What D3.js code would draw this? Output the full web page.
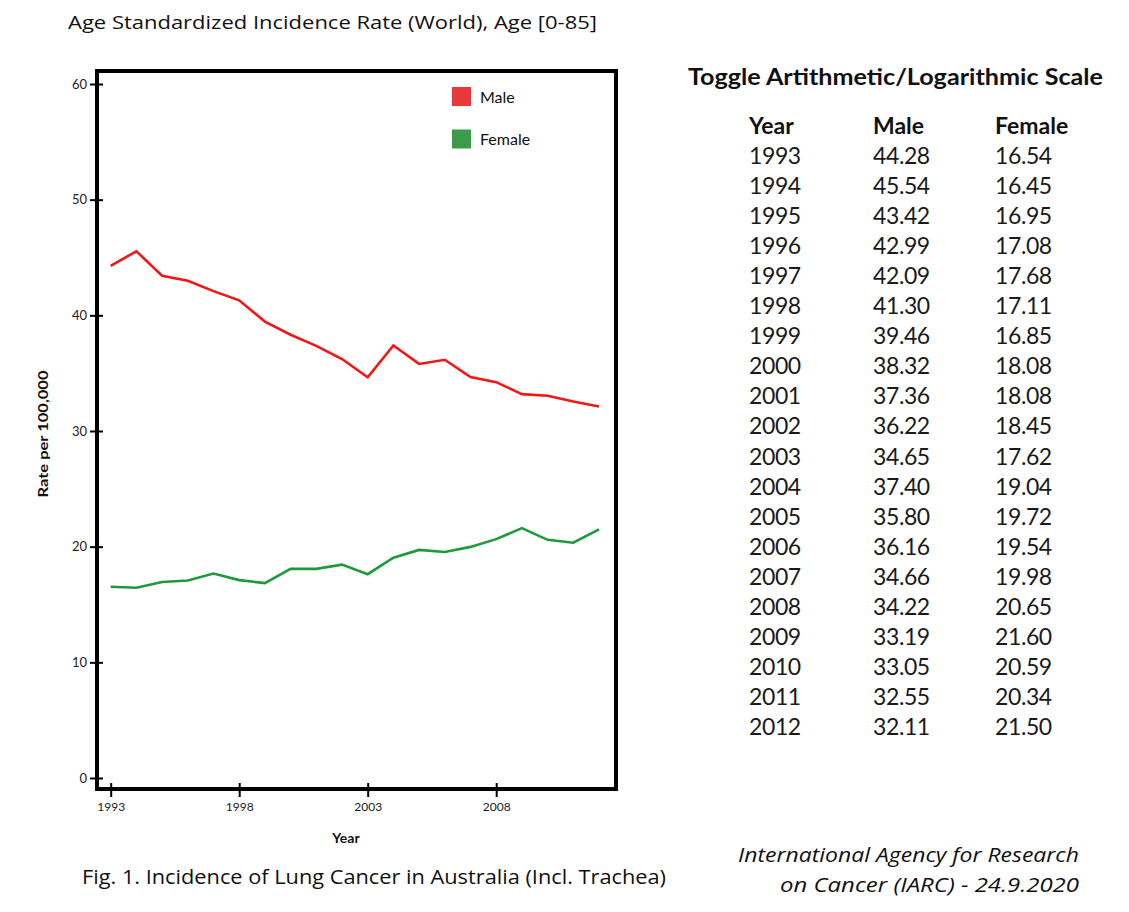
<!DOCTYPE html>
<html><head><meta charset="utf-8">
<script src="https://cdn.jsdelivr.net/npm/d3@7"></script>
<style>
html,body{margin:0;padding:0;background:#fff;}
svg{display:block;}
</style></head>
<body>
<svg id="c" width="1129" height="912"></svg>
<script>
const years = [1993,1994,1995,1996,1997,1998,1999,2000,2001,2002,2003,2004,2005,2006,2007,2008,2009,2010,2011,2012];
const maleValues = [44.28,45.54,43.42,42.99,42.09,41.30,39.46,38.32,37.36,36.22,34.65,37.40,35.80,36.16,34.66,34.22,33.19,33.05,32.55,32.11];
const femaleValues = [16.54,16.45,16.95,17.08,17.68,17.11,16.85,18.08,18.08,18.45,17.62,19.04,19.72,19.54,19.98,20.65,21.60,20.59,20.34,21.50];
const maleLabels = ["44.28","45.54","43.42","42.99","42.09","41.30","39.46","38.32","37.36","36.22","34.65","37.40","35.80","36.16","34.66","34.22","33.19","33.05","32.55","32.11"];
const femaleLabels = ["16.54","16.45","16.95","17.08","17.68","17.11","16.85","18.08","18.08","18.45","17.62","19.04","19.72","19.54","19.98","20.65","21.60","20.59","20.34","21.50"];
const yTicks = [0,10,20,30,40,50,60];
const xTicks = [1993,1998,2003,2008];
const seriesNames = ["Male","Female"];
const tableHeaders = ["Year","Male","Female"];

const svg = d3.select("#c");
const axisFont = "Lato, 'Open Sans', sans-serif";
const bodyFont = "'Open Sans', 'Liberation Sans', sans-serif";

const x = d3.scaleLinear().domain([1993,2012]).range([110.7,599]);
const y = d3.scaleLinear().domain([0,60]).range([778,84]);

// Title
svg.append("text").attr("x",68).attr("y",29).attr("font-family",bodyFont).attr("font-size",19)
  .attr("textLength",529).attr("lengthAdjust","spacingAndGlyphs").attr("fill","#111")
  .text("Age Standardized Incidence Rate (World), Age [0-85]");

// Frame
svg.append("rect").attr("x",97).attr("y",71).attr("width",519).attr("height",718)
  .attr("fill","none").attr("stroke","#000").attr("stroke-width",4);

// Y axis
const gy = svg.append("g").attr("transform","translate(97,0)")
  .call(d3.axisLeft(y).tickValues(yTicks).tickSize(7).tickPadding(3));
gy.select(".domain").remove();
gy.selectAll(".tick line").attr("x1",6).attr("stroke","#000").attr("stroke-width",2);
gy.selectAll(".tick text").attr("font-family",axisFont).attr("font-size",13).attr("fill","#222");

// X axis
const gx = svg.append("g").attr("transform","translate(0,789)")
  .call(d3.axisBottom(x).tickValues(xTicks).tickFormat(d3.format("d")).tickSize(8).tickPadding(5));
gx.select(".domain").remove();
gx.selectAll(".tick line").attr("y1",-6).attr("stroke","#000").attr("stroke-width",2);
gx.selectAll(".tick text").attr("font-family",axisFont).attr("font-size",12).attr("fill","#222");

// Axis titles
svg.append("text").attr("x",346).attr("y",843).attr("text-anchor","middle")
  .attr("font-family",axisFont).attr("font-weight","bold").attr("font-size",14).attr("fill","#111").text("Year");
svg.append("text").attr("transform","translate(48,434) rotate(-90)").attr("text-anchor","middle")
  .attr("font-family",axisFont).attr("font-weight","bold").attr("font-size",14)
  .attr("textLength",127).attr("lengthAdjust","spacingAndGlyphs").attr("fill","#111").text("Rate per 100,000");

// Lines
const colors = {Male:"#f21616", Female:"#1c9a3c"};
const swatch = {Male:"#e8383a", Female:"#3c9a4a"};
const line = d3.line().x(d=>x(d.year)).y(d=>y(d.v));
[[ "Male", maleValues],["Female", femaleValues]].forEach(([name, vals])=>{
  svg.append("path").datum(years.map((yr,i)=>({year:yr, v:vals[i]})))
    .attr("d",line).attr("fill","none").attr("stroke",colors[name]).attr("stroke-width",2.6)
    .attr("stroke-linejoin","miter");
});

// Legend
seriesNames.forEach((n,i)=>{
  const yy = 87 + i*42.5;
  svg.append("rect").attr("x",452).attr("y",yy).attr("width",19).attr("height",19).attr("fill",swatch[n]);
  svg.append("text").attr("x",480).attr("y",yy+15.5).attr("font-family",axisFont).attr("font-size",16)
    .attr("fill","#111").text(n);
});

// Table
const tableFont = "Lato, 'Open Sans', sans-serif";
svg.append("text").attr("x",688).attr("y",85).attr("font-family",tableFont).attr("font-weight","bold")
  .attr("font-size",22).attr("textLength",415).attr("lengthAdjust","spacingAndGlyphs").attr("fill","#111")
  .text("Toggle Artithmetic/Logarithmic Scale");
const colX = [749,873,995];
tableHeaders.forEach((h,i)=>{
  svg.append("text").attr("x",colX[i]).attr("y",134).attr("font-family",tableFont).attr("font-weight","bold")
    .attr("font-size",23).attr("fill","#111").text(h);
});
const rowH = 30.05;
years.forEach((yr,i)=>{
  const yy = 164 + i*rowH;
  [String(yr), maleLabels[i], femaleLabels[i]].forEach((t,j)=>{
    svg.append("text").attr("x",colX[j]).attr("y",yy).attr("font-family",tableFont)
      .attr("font-size",23).attr("letter-spacing",-0.4).attr("fill","#1a1a1a").text(t);
  });
});

// Caption
svg.append("text").attr("x",82).attr("y",884).attr("font-family",bodyFont).attr("font-size",20)
  .attr("textLength",584).attr("lengthAdjust","spacingAndGlyphs").attr("fill","#111")
  .text("Fig. 1. Incidence of Lung Cancer in Australia (Incl. Trachea)");
svg.append("text").attr("x",1079).attr("y",862).attr("text-anchor","end").attr("font-family",bodyFont)
  .attr("font-style","italic").attr("font-size",20).attr("textLength",341).attr("lengthAdjust","spacingAndGlyphs")
  .attr("fill","#111").text("International Agency for Research");
svg.append("text").attr("x",1079).attr("y",892).attr("text-anchor","end").attr("font-family",bodyFont)
  .attr("font-style","italic").attr("font-size",20).attr("textLength",299).attr("lengthAdjust","spacingAndGlyphs")
  .attr("fill","#111").text("on Cancer (IARC) - 24.9.2020");
</script>
</body></html>
